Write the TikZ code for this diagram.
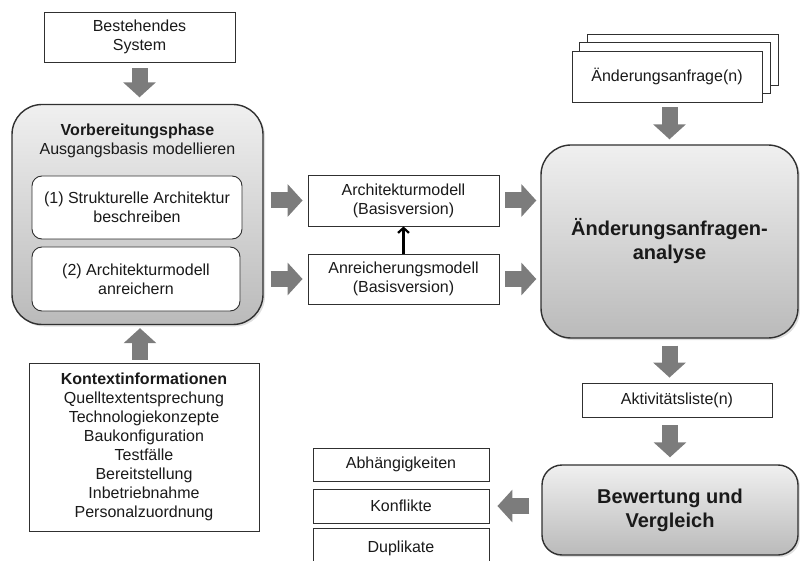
\documentclass[tikz,border=0pt]{standalone}
\usepackage{fontspec}
\setmainfont{Liberation Sans}
\usetikzlibrary{arrows.meta,shadows}
\definecolor{ink}{HTML}{1A1A1A}
\definecolor{arrowgray}{HTML}{7C7C7C}
\definecolor{frame}{HTML}{303030}
\begin{document}
\begin{tikzpicture}[x=1pt,y=-1pt,
  every node/.style={font=\fontsize{16}{19}\selectfont, text=ink, align=center},
  plainbox/.style={draw=frame, line width=0.9pt, fill=white, inner sep=0pt},
  innerbox/.style={plainbox, rounded corners=10pt},
  phasebox/.style={draw=frame, line width=1.4pt, rounded corners=30pt,
    top color=black!6, bottom color=black!27,
    drop shadow={shadow xshift=2pt, shadow yshift=-2pt, opacity=0.25}, inner sep=0pt},
  bigarrow/.style={draw=arrowgray, line width=16pt,
    -{Triangle[width=32pt,length=15pt]}},
  thinarrow/.style={draw=black, line width=2.2pt,
    -{Straight Barb[length=5pt,width=11pt]}},
  titletext/.style={font=\fontsize{20}{24}\selectfont\bfseries}
]
\useasboundingbox (0,0) rectangle (800,561);
\clip (0,0) rectangle (800,561);

% left column: existing system and preparation phase
\node[plainbox, minimum width=191pt, minimum height=50pt] (best) at (139.5,37)
  {Bestehendes\\System};
\node[phasebox, minimum width=251pt, minimum height=220pt] (vorb) at (137.5,214.5) {};
\node (vorbtitle) at (137.5,141)
  {\textbf{Vorbereitungsphase}\\Ausgangsbasis modellieren};
\node[innerbox, minimum width=210pt, minimum height=63pt] (s1) at (137,207.5)
  {(1) Strukturelle Architektur\\beschreiben};
\node[innerbox, minimum width=208pt, minimum height=64pt] (s2) at (136,279)
  {(2) Architekturmodell\\anreichern};

% context information
\node[plainbox, minimum width=230pt, minimum height=168pt] (kont) at (144,447)
  {\textbf{Kontextinformationen}\\Quelltextentsprechung\\Technologiekonzepte\\
   Baukonfiguration\\Testfälle\\Bereitstellung\\Inbetriebnahme\\Personalzuordnung};

% base models
\node[plainbox, minimum width=191pt, minimum height=51pt] (arch) at (403.5,200.5)
  {Architekturmodell\\(Basisversion)};
\node[plainbox, minimum width=191pt, minimum height=50pt] (anr) at (403.5,279)
  {Anreicherungsmodell\\(Basisversion)};

% change requests (stacked sheets)
\node[plainbox, minimum width=191pt, minimum height=51pt] (req3) at (682.5,59.5) {};
\node[plainbox, minimum width=191pt, minimum height=51pt] (req2) at (674.5,68) {};
\node[plainbox, minimum width=190pt, minimum height=51pt] (req) at (667,76.5)
  {Änderungsanfrage(n)};

% analysis
\node[phasebox, minimum width=257pt, minimum height=193pt, titletext] (ana) at (669.5,241.5)
  {Änderungsanfragen-\\analyse};
\node[plainbox, minimum width=190pt, minimum height=34pt] (aktiv) at (677,400)
  {Aktivitätsliste(n)};
\node[phasebox, rounded corners=20pt, minimum width=256pt, minimum height=90pt, titletext]
  (bew) at (670,510) {Bewertung und\\Vergleich};

% results
\node[plainbox, minimum width=176pt, minimum height=33pt] (abh) at (401,464.5)
  {Abhängigkeiten};
\node[plainbox, minimum width=176pt, minimum height=34pt] (konf) at (401,506)
  {Konflikte};
\node[plainbox, minimum width=176pt, minimum height=44pt] (dup) at (401,550)
  {\raisebox{7pt}{Duplikate}};

% connectors
\draw[bigarrow, shorten <=6pt, shorten >=6.5pt] (best.south) -- (vorb.north -| best.south);
\draw[bigarrow, shorten <=3pt, shorten >=3pt] (kont.north -| vorb.south) ++(2.5,0) coordinate (kup)
  (kup) -- (kup |- vorb.south);
\draw[bigarrow, shorten <=7pt, shorten >=5pt] (vorb.east |- arch.west) -- (arch.west);
\draw[bigarrow, shorten <=7pt, shorten >=5pt] (vorb.east |- anr.west) -- (anr.west);
\draw[bigarrow, shorten <=6pt, shorten >=4pt] (arch.east) -- (arch.east -| ana.west);
\draw[bigarrow, shorten <=6pt, shorten >=4pt] (anr.east) -- (anr.east -| ana.west);
\draw[bigarrow, shorten <=5pt, shorten >=5pt] (req.south -| ana.north) -- (ana.north);
\draw[bigarrow, shorten <=7pt, shorten >=5pt] (ana.south) -- (ana.south |- aktiv.north);
\draw[bigarrow, shorten <=8pt, shorten >=7pt] (bew.north |- aktiv.south) -- (bew.north);
\draw[bigarrow, shorten <=12pt, shorten >=8pt] (bew.west |- konf.east) -- (konf.east);
\draw[thinarrow] (anr.north) -- (arch.south);
\end{tikzpicture}
\end{document}
